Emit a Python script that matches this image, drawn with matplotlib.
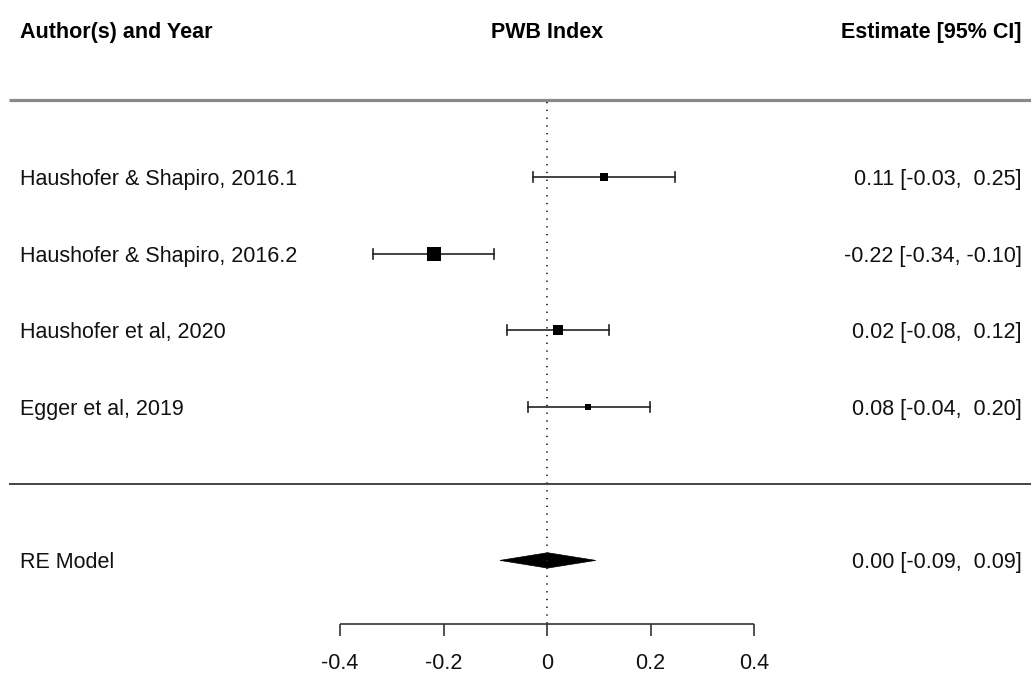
import matplotlib
matplotlib.use("Agg")
import matplotlib.pyplot as plt
from matplotlib.patches import Polygon

plt.rcParams['font.family'] = ['Liberation Sans', 'DejaVu Sans']

# study data
studies = ['Haushofer & Shapiro, 2016.1', 'Haushofer & Shapiro, 2016.2',
           'Haushofer et al, 2020', 'Egger et al, 2019']
est = [0.110, -0.219, 0.021, 0.080]
ci_lb = [-0.027, -0.337, -0.077, -0.037]
ci_ub = [0.248, -0.102, 0.119, 0.199]
weights = [22, 33, 27, 17]

re_label = 'RE Model'
re_est = 0.001
re_lb = -0.091
re_ub = 0.094

xticks = [-0.4, -0.2, 0, 0.2, 0.4]
xtick_labels = ['-0.4', '-0.2', '0', '0.2', '0.4']

headers = ['Author(s) and Year', 'PWB Index', 'Estimate [95% CI]']

fig = plt.figure(figsize=(10.31, 6.75), dpi=100)
ax = fig.add_axes([0, 0, 1, 1])
ax.set_xlim(-1.057, 0.935)
ax.set_ylim(-2.494, 6.306)
ax.axis('off')

fs = 15.5
k = len(studies)
rows = list(range(k, 0, -1))
tr = ax.get_yaxis_transform()
va = 'center_baseline'

# header and rules
ax.text(0.019, 5.915, headers[0], transform=tr, ha='left', va=va, fontsize=fs, fontweight='bold')
ax.text(0, 5.915, headers[1], ha='center', va=va, fontsize=fs, fontweight='bold')
ax.text(0.991, 5.915, headers[2], transform=tr, ha='right', va=va, fontsize=fs, fontweight='bold')
ax.plot([0.009, 1], [k + 1, k + 1], transform=tr, color='#8a8a8a', lw=2.3, solid_capstyle='butt')
ax.plot([0.009, 1], [0, 0], transform=tr, color='#444444', lw=1.4, solid_capstyle='butt')

# reference line
ax.plot([0, 0], [k + 0.97, -1.83], color='#222222', lw=1.3, linestyle=(0, (0.7, 3.6)))

# studies
wmin, wmax = min(weights), max(weights)
cap = 0.065
for r, name, e, lb, ub, w in zip(rows, studies, est, ci_lb, ci_ub, weights):
    ax.plot([lb, ub], [r, r], color='#222222', lw=1.2)
    ax.plot([lb, lb], [r - cap, r + cap], color='#222222', lw=1.2)
    ax.plot([ub, ub], [r - cap, r + cap], color='#222222', lw=1.2)
    px = 5.7 + (w - wmin) / (wmax - wmin) * (14 - 5.7)
    ax.plot([e], [r], marker='s', color='black', markersize=px * 0.72, markeredgewidth=0)
    ax.text(0.019, r, name, transform=tr, ha='left', va=va, fontsize=fs, color='#111111')
    ax.text(0.991, r, f'{e:.2f} [{lb:.2f},  {ub:.2f}]'.replace(',  -', ', -'), transform=tr,
            ha='right', va=va, fontsize=fs, color='#111111')

# summary diamond
h = 0.1
ax.add_patch(Polygon([[re_lb, -1], [re_est, -1 + h], [re_ub, -1], [re_est, -1 - h]],
                     closed=True, facecolor='black', edgecolor='black', lw=0.5))
ax.text(0.019, -1, re_label, transform=tr, ha='left', va=va, fontsize=fs, color='#111111')
ax.text(0.991, -1, f'{re_est:.2f} [{re_lb:.2f},  {re_ub:.2f}]'.replace(',  -', ', -'), transform=tr,
        ha='right', va=va, fontsize=fs, color='#111111')

# x axis
ya = -1.829
ax.plot([xticks[0], xticks[-1]], [ya, ya], color='#333333', lw=1.2, solid_capstyle='butt')
for t, lab in zip(xticks, xtick_labels):
    ax.plot([t, t], [ya, ya - 0.16], color='#333333', lw=1.2, solid_capstyle='butt')
    ax.text(t, -2.312, lab, ha='center', va=va, fontsize=fs, color='#111111')

fig.savefig('out.png', dpi=100)
